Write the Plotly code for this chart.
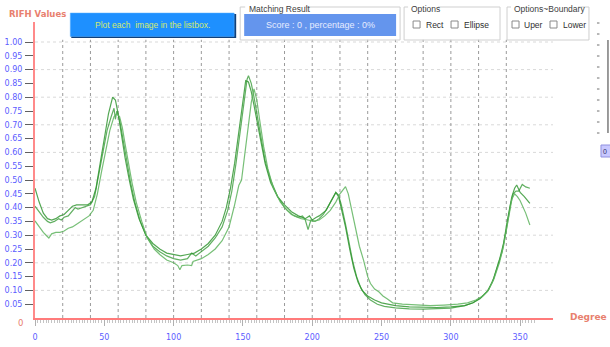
import plotly.graph_objects as go

# ---------------- data ----------------
deg_a = [0, 3, 6, 9, 12, 15, 18, 21, 24, 27, 30, 34, 38, 41, 44, 47, 50, 53, 56, 58, 60, 62, 65, 68, 71, 75,
         80, 85, 90, 95, 100, 105, 110, 115, 120, 125, 130, 135, 138, 141, 144, 147, 150, 152, 154, 156, 158,
         160, 163, 166, 170, 175, 180, 185, 190, 195, 198, 200, 203, 205, 210, 214, 217, 219, 221, 224, 227,
         230, 233, 236, 240, 245, 250, 260, 270, 280, 290, 300, 310, 316, 322, 327, 331, 335, 338, 341, 344,
         346, 347.5, 350, 353, 357]
val_a = [0.47, 0.42, 0.38, 0.36, 0.355, 0.36, 0.37, 0.375, 0.39, 0.405, 0.41, 0.41, 0.41, 0.42, 0.47, 0.56,
         0.65, 0.74, 0.80, 0.79, 0.74, 0.67, 0.58, 0.50, 0.43, 0.36, 0.30, 0.27, 0.25, 0.235, 0.23, 0.225,
         0.23, 0.235, 0.25, 0.27, 0.30, 0.35, 0.40, 0.47, 0.56, 0.67, 0.78, 0.86, 0.855, 0.82, 0.77, 0.72,
         0.64, 0.56, 0.49, 0.44, 0.41, 0.385, 0.37, 0.36, 0.37, 0.355, 0.365, 0.37, 0.39, 0.43, 0.455, 0.44,
         0.40, 0.33, 0.25, 0.18, 0.13, 0.10, 0.08, 0.065, 0.055, 0.045, 0.04, 0.038, 0.038, 0.04, 0.045, 0.055,
         0.075, 0.10, 0.145, 0.21, 0.27, 0.36, 0.44, 0.47, 0.482, 0.455, 0.44, 0.415]

deg_b = [0, 3, 6, 9, 11, 14, 17, 19, 21, 24, 27, 29, 31, 34, 37, 40, 43, 46, 49, 52, 55, 57, 58, 59, 61, 63,
         66, 69, 72, 76, 80, 85, 90, 95, 100, 105, 110, 113, 116, 120, 125, 130, 135, 139, 142, 145, 148, 151,
         153, 154, 156, 158, 160, 163, 166, 170, 175, 180, 185, 190, 193, 195, 197, 199, 202, 205, 208, 211,
         214, 217, 219, 221, 224, 227, 229, 232, 235, 238, 242, 247, 252, 260, 270, 280, 290, 300, 310, 316,
         321, 326, 330, 334, 337, 340, 343, 345, 347, 349, 351.5, 354, 357]
val_b = [0.405, 0.385, 0.365, 0.35, 0.345, 0.35, 0.36, 0.355, 0.365, 0.37, 0.39, 0.40, 0.395, 0.40, 0.405,
         0.41, 0.44, 0.52, 0.60, 0.68, 0.73, 0.76, 0.72, 0.75, 0.72, 0.66, 0.58, 0.49, 0.42, 0.35, 0.30, 0.26,
         0.24, 0.225, 0.215, 0.21, 0.215, 0.235, 0.225, 0.24, 0.26, 0.29, 0.33, 0.39, 0.46, 0.56, 0.68, 0.80,
         0.865, 0.878, 0.85, 0.80, 0.74, 0.65, 0.57, 0.50, 0.44, 0.40, 0.375, 0.365, 0.37, 0.355, 0.32, 0.355,
         0.35, 0.36, 0.375, 0.40, 0.43, 0.455, 0.445, 0.41, 0.34, 0.26, 0.21, 0.15, 0.11, 0.085, 0.065, 0.05,
         0.042, 0.037, 0.033, 0.032, 0.033, 0.036, 0.045, 0.055, 0.07, 0.095, 0.13, 0.19, 0.24, 0.32, 0.41,
         0.45, 0.46, 0.46, 0.484, 0.475, 0.47]

deg_c = [0, 3, 6, 8, 10, 12, 15, 18, 21, 24, 27, 30, 33, 36, 39, 42, 45, 48, 51, 54, 57, 59, 61, 63, 65, 67,
         70, 73, 77, 81, 86, 90, 95, 100, 103, 104.5, 106, 110, 113, 114, 117, 120, 125, 130, 135, 140, 144,
         147, 149, 151, 154, 156, 158, 160, 162, 165, 168, 172, 177, 182, 187, 192, 197, 201, 205, 209, 213,
         217, 220, 222, 224, 226, 228, 231, 234, 237, 240, 242, 245, 248, 251, 254, 258, 265, 275, 285, 295,
         305, 312, 318, 323, 327, 331, 335, 338, 341, 344, 346, 348, 350, 354, 357]
val_c = [0.352, 0.33, 0.31, 0.30, 0.29, 0.305, 0.31, 0.31, 0.315, 0.325, 0.33, 0.34, 0.35, 0.36, 0.37, 0.39,
         0.45, 0.53, 0.61, 0.68, 0.73, 0.74, 0.73, 0.69, 0.63, 0.57, 0.49, 0.42, 0.35, 0.29, 0.25, 0.23, 0.21,
         0.20, 0.19, 0.175, 0.19, 0.192, 0.19, 0.205, 0.21, 0.215, 0.23, 0.25, 0.28, 0.33, 0.41, 0.48, 0.50,
         0.58, 0.70, 0.78, 0.83, 0.79, 0.72, 0.62, 0.54, 0.47, 0.42, 0.39, 0.37, 0.36, 0.355, 0.35, 0.355,
         0.37, 0.39, 0.42, 0.45, 0.465, 0.476, 0.45, 0.40, 0.33, 0.26, 0.21, 0.15, 0.125, 0.105, 0.095, 0.08,
         0.07, 0.055, 0.05, 0.047, 0.045, 0.047, 0.05, 0.055, 0.065, 0.08, 0.10, 0.14, 0.20, 0.26, 0.35, 0.43,
         0.45, 0.44, 0.425, 0.38, 0.337]

x_tick_vals = [0, 50, 100, 150, 200, 250, 300, 350]
y_tick_vals = [0.05, 0.10, 0.15, 0.20, 0.25, 0.30, 0.35, 0.40, 0.45, 0.50,
               0.55, 0.60, 0.65, 0.70, 0.75, 0.80, 0.85, 0.90, 0.95, 1.00]
y_tick_text = ["%.2f" % v for v in y_tick_vals]

# ---------------- geometry ----------------
W, H = 610, 347
L, R = 34.7, 553.0
TOP, BOT = 22.0, 318.0
PX_PER_DEG = 1.387
PX_PER_VAL = 276.0
XMAX = (R - L) / PX_PER_DEG
YMAX = (BOT - TOP) / PX_PER_VAL


def px(xp):
    return (xp - L) / (R - L)


def py(yp):
    return (BOT - yp) / (BOT - TOP)


fig = go.Figure()
colors = ["rgba(40,145,40,0.8)", "rgba(45,150,45,0.75)", "rgba(95,180,95,0.85)"]
for xs, ys, c in [(deg_a, val_a, colors[0]), (deg_b, val_b, colors[1]), (deg_c, val_c, colors[2])]:
    fig.add_trace(go.Scatter(x=xs, y=ys, mode="lines", line=dict(color=c, width=1.2),
                             hoverinfo="skip", showlegend=False))

shapes = []
# vertical grid every 20 degrees
for d in range(20, 341, 20):
    shapes.append(dict(type="line", xref="x", yref="y", x0=d, x1=d, y0=0, y1=1.008,
                       line=dict(color="#9a9a9a", width=1, dash="dot"), layer="below"))
# horizontal grid every 0.1
for i in range(1, 11):
    v = i / 10
    shapes.append(dict(type="line", xref="paper", yref="y", x0=0, x1=1, y0=v, y1=v,
                       line=dict(color="#d9d9d9", width=1, dash="dot"), layer="below"))


def rect(x0, y0, x1, y1, fill=None, line=None, lw=1):
    shapes.append(dict(type="rect", xref="paper", yref="paper",
                       x0=px(x0), x1=px(x1), y0=py(y1), y1=py(y0),
                       fillcolor=fill if fill else "rgba(0,0,0,0)",
                       line=dict(color=line if line else "rgba(0,0,0,0)", width=lw), layer="above"))


def hline(x0, x1, y, color, lw=1):
    shapes.append(dict(type="line", xref="paper", yref="paper", x0=px(x0), x1=px(x1),
                       y0=py(y), y1=py(y), line=dict(color=color, width=lw), layer="above"))


def vline(x, y0, y1, color, lw=1):
    shapes.append(dict(type="line", xref="paper", yref="paper", x0=px(x), x1=px(x),
                       y0=py(y0), y1=py(y1), line=dict(color=color, width=lw), layer="above"))


# group boxes (with gap for title)
def groupbox(x0, y0, x1, y1, tx0, tx1):
    gb = "#cfcfcf"
    hline(x0, tx0, y0, gb)
    hline(tx1, x1, y0, gb)
    hline(x0, x1, y1, gb)
    vline(x0, y0, y1, gb)
    vline(x1, y0, y1, gb)


# button
rect(71, 14, 236, 38, fill="#10407a")
rect(70, 13, 234, 36.5, fill="#1e90ff", line="#5ab0ff", lw=0.5)
groupbox(240, 7, 400, 40, 245, 304)
rect(244, 14, 396, 36, fill="#6495ed")
groupbox(404, 7, 500, 40, 408, 438)
groupbox(507, 7, 589, 40, 511, 578)
for cx in [413, 451, 512, 550]:
    rect(cx, 21, cx + 7, 28, fill="white", line="#8a8a8a")
# trackbar ruler at right
for yy in [23, 34, 45, 56, 67, 78, 89, 100, 111, 122, 133]:
    hline(597, 599.5, yy, "#707070", 1)
vline(608, 40, 133, "#7a7a7a", 1.5)
rect(601, 145, 611, 157, fill="#c8c8ff", line="#9090e0")

ann = []
ui_font = "Liberation Sans"


def text(x, y, s, color, size, xanchor="left", bold=False, family=ui_font):
    ann.append(dict(xref="paper", yref="paper", x=px(x), y=py(y), text=("<b>%s</b>" % s) if bold else s,
                    showarrow=False, xanchor=xanchor, yanchor="middle",
                    font=dict(color=color, size=size, family=family)))


text(152, 25, "Plot each  image in the listbox.", "#d2ea6e", 8.5, xanchor="center")
text(247, 9.5, "Matching Result", "#404040", 8.5)
text(320, 25, "Score : 0 , percentage : 0%", "#e6ecff", 9, xanchor="center")
text(409, 9.5, "Options", "#404040", 8.5)
text(424, 24.5, "Rect", "#303030", 8.5)
text(462, 24.5, "Ellipse", "#303030", 8.5)
text(512, 9.5, "Options~Boundary", "#404040", 8.5)
text(522, 24.5, "Uper", "#303030", 8.5)
text(561, 24.5, "Lower", "#303030", 8.5)
text(605.5, 151, "0", "#303060", 7, xanchor="center")
text(7, 14, "RIFH Values", "#e8806e", 8.5, bold=True, family="DejaVu Sans")
text(568, 316.5, "Degree", "#e8806e", 9, bold=True, family="DejaVu Sans")
text(20, 323, "0", "#e8806e", 8.5, xanchor="center", family="DejaVu Sans")

fig.update_layout(
    width=W, height=H,
    margin=dict(l=L, r=W - R, t=TOP, b=H - BOT, pad=0, autoexpand=False),
    paper_bgcolor="white", plot_bgcolor="white",
    shapes=shapes, annotations=ann,
    xaxis=dict(range=[0, XMAX], showgrid=False, zeroline=False, showline=True, automargin=False,
               linecolor="#ff7b7b", linewidth=1.5,
               tickmode="array", tickvals=list(range(0, 361, 10)),
               ticktext=[str(v) if v in x_tick_vals else "" for v in range(0, 361, 10)],
               ticks="outside", ticklen=6, tickcolor="#b0b0b0", tickwidth=1,
               ticklabelstandoff=5,
               minor=dict(tickmode="array", tickvals=list(range(0, 361, 2)), ticks="outside",
                          ticklen=3, tickcolor="#c4c4c4", tickwidth=1, showgrid=False),
               tickfont=dict(family="DejaVu Sans", size=8, color="#5c5cff"), fixedrange=True),
    yaxis=dict(range=[0, YMAX], showgrid=False, zeroline=False, showline=True, automargin=False,
               linecolor="#ff8a8a", linewidth=2,
               tickmode="array", tickvals=y_tick_vals, ticktext=y_tick_text,
               ticks="outside", ticklen=8, tickcolor="#606060", tickwidth=1,
               ticklabelstandoff=1,
               tickfont=dict(family="DejaVu Sans", size=8, color="#5c5cff"), fixedrange=True),
)

fig.write_html("out.html", config={"displayModeBar": False},
               post_script="document.body.style.margin='0';document.body.style.overflow='hidden';")
